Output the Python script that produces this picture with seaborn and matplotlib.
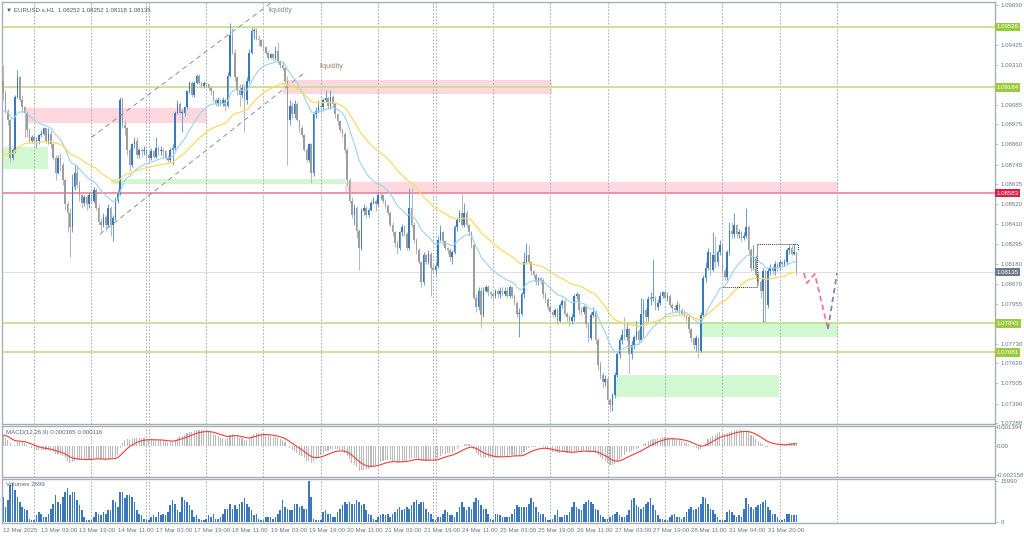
import numpy as np
import pandas as pd
import matplotlib
matplotlib.use("Agg")
import matplotlib.pyplot as plt
import matplotlib.transforms as mtransforms
import seaborn as sns

# %% ------------------------------------------------------------------
#                         data (EURUSD H1)
# ---------------------------------------------------------------------
first_open = 1.0922
closes = [
    1.0915, 1.0905, 1.0900, 1.0878, 1.0883, 1.0913, 1.0924, 1.0911, 1.0907, 1.0904,
    1.0894, 1.0888, 1.0890, 1.0888, 1.0888, 1.0891, 1.0892, 1.0895, 1.0888, 1.0892,
    1.0886, 1.0878, 1.0870, 1.0878, 1.0874, 1.0866, 1.0852, 1.0847, 1.0839, 1.0862,
    1.0870, 1.0863, 1.0857, 1.0853, 1.0856, 1.0852, 1.0857, 1.0854, 1.0860, 1.0850,
    1.0842, 1.0840, 1.0845, 1.0840, 1.0850, 1.0840, 1.0844, 1.0854, 1.0858, 1.0911,
    1.0897, 1.0895, 1.0883, 1.0874, 1.0886, 1.0888, 1.0880, 1.0883, 1.0882, 1.0883,
    1.0880, 1.0878, 1.0882, 1.0879, 1.0884, 1.0882, 1.0883, 1.0882, 1.0878, 1.0877,
    1.0883, 1.0884, 1.0904, 1.0909, 1.0904, 1.0904, 1.0907, 1.0916, 1.0921, 1.0914,
    1.0921, 1.0925, 1.0921, 1.0919, 1.0921, 1.0920, 1.0918, 1.0916, 1.0911, 1.0909,
    1.0911, 1.0909, 1.0911, 1.0908, 1.0925, 1.0948, 1.0938, 1.0924, 1.0917, 1.0914,
    1.0918, 1.0911, 1.0922, 1.0938, 1.0950, 1.0951, 1.0946, 1.0945, 1.0942, 1.0941,
    1.0938, 1.0935, 1.0937, 1.0935, 1.0939, 1.0933, 1.0931, 1.0929, 1.0922, 1.0900,
    1.0908, 1.0903, 1.0909, 1.0900, 1.0895, 1.0891, 1.0883, 1.0877, 1.0886, 1.0870,
    1.0903, 1.0905, 1.0908, 1.0907, 1.0911, 1.0912, 1.0908, 1.0913, 1.0909, 1.0903,
    1.0899, 1.0894, 1.0892, 1.0883, 1.0866, 1.0854, 1.0846, 1.0850, 1.0837, 1.0827,
    1.0848, 1.0850, 1.0846, 1.0849, 1.0853, 1.0854, 1.0852, 1.0857, 1.0857, 1.0854,
    1.0851, 1.0847, 1.0840, 1.0836, 1.0830, 1.0827, 1.0836, 1.0839, 1.0835, 1.0827,
    1.0850, 1.0840, 1.0832, 1.0826, 1.0819, 1.0808, 1.0823, 1.0819, 1.0824, 1.0816,
    1.0815, 1.0817, 1.0832, 1.0836, 1.0831, 1.0827, 1.0826, 1.0822, 1.0825, 1.0839,
    1.0843, 1.0847, 1.0840, 1.0847, 1.0840, 1.0836, 1.0829, 1.0799, 1.0794, 1.0803,
    1.0789, 1.0803, 1.0805, 1.0802, 1.0801, 1.0800, 1.0803, 1.0801, 1.0803, 1.0801,
    1.0803, 1.0800, 1.0805, 1.0800, 1.0796, 1.0790, 1.0790, 1.0801, 1.0819, 1.0823,
    1.0819, 1.0814, 1.0812, 1.0808, 1.0810, 1.0809, 1.0801, 1.0798, 1.0794, 1.0791,
    1.0789, 1.0792, 1.0786, 1.0795, 1.0797, 1.0790, 1.0788, 1.0786, 1.0788, 1.0800,
    1.0801, 1.0792, 1.0791, 1.0794, 1.0784, 1.0776, 1.0789, 1.0791, 1.0775, 1.0761,
    1.0755, 1.0751, 1.0753, 1.0741, 1.0738, 1.0744, 1.0755, 1.0767, 1.0775, 1.0778,
    1.0777, 1.0781, 1.0767, 1.0772, 1.0777, 1.0780, 1.0775, 1.0790, 1.0792, 1.0788,
    1.0798, 1.0799, 1.0799, 1.0794, 1.0796, 1.0800, 1.0802, 1.0799, 1.0800, 1.0795,
    1.0793, 1.0792, 1.0795, 1.0792, 1.0790, 1.0789, 1.0788, 1.0781, 1.0776, 1.0772,
    1.0776, 1.0769, 1.0789, 1.0810, 1.0816, 1.0825, 1.0815, 1.0823, 1.0819, 1.0825,
    1.0829, 1.0814, 1.0811, 1.0825, 1.0837, 1.0835, 1.0840, 1.0835, 1.0836, 1.0833,
    1.0834, 1.0839, 1.0826, 1.0816, 1.0822, 1.0812, 1.0808, 1.0803, 1.0814, 1.0795,
    1.0814, 1.0816, 1.0814, 1.0818, 1.0816, 1.0819, 1.0818, 1.0819, 1.0826, 1.0827,
    1.0824, 1.08252, 1.08135,
]
highs = [
    1.0931, 1.0917, 1.0906, 1.0901, 1.0884, 1.0914, 1.0928, 1.0925, 1.0914, 1.0908,
    1.0905, 1.0895, 1.0891, 1.0891, 1.0890, 1.0892, 1.0894, 1.0896, 1.0895, 1.0895,
    1.0894, 1.0887, 1.0880, 1.0880, 1.0881, 1.0876, 1.0867, 1.0854, 1.0850, 1.0869,
    1.0874, 1.0874, 1.0865, 1.0858, 1.0857, 1.0857, 1.0859, 1.0858, 1.0862, 1.0861,
    1.0852, 1.0844, 1.0847, 1.0846, 1.0852, 1.0851, 1.0846, 1.0856, 1.0860, 1.0913,
    1.0913, 1.0900, 1.0896, 1.0884, 1.0887, 1.0890, 1.0890, 1.0884, 1.0884, 1.0885,
    1.0884, 1.0882, 1.0884, 1.0883, 1.0890, 1.0885, 1.0885, 1.0884, 1.0883, 1.0880,
    1.0884, 1.0886, 1.0905, 1.0911, 1.0910, 1.0906, 1.0908, 1.0917, 1.0922, 1.0922,
    1.0922, 1.0926, 1.0926, 1.0922, 1.0922, 1.0921, 1.0920, 1.0919, 1.0917, 1.0912,
    1.0913, 1.0912, 1.0913, 1.0912, 1.0927, 1.0955, 1.0952, 1.0940, 1.0925, 1.0920,
    1.0920, 1.0920, 1.0924, 1.0940, 1.0952, 1.0952, 1.0952, 1.0948, 1.0946, 1.0945,
    1.0942, 1.0939, 1.0938, 1.0938, 1.0942, 1.0944, 1.0934, 1.0933, 1.0930, 1.0925,
    1.0911, 1.0910, 1.0911, 1.0910, 1.0900, 1.0897, 1.0892, 1.0884, 1.0887, 1.0887,
    1.0904, 1.0907, 1.0911, 1.0909, 1.0912, 1.0917, 1.0913, 1.0917, 1.0914, 1.0910,
    1.0904, 1.0900, 1.0895, 1.0893, 1.0884, 1.0867, 1.0856, 1.0852, 1.0851, 1.0838,
    1.0850, 1.0852, 1.0851, 1.0850, 1.0854, 1.0856, 1.0855, 1.0859, 1.0858, 1.0857,
    1.0855, 1.0852, 1.0848, 1.0842, 1.0837, 1.0832, 1.0837, 1.0841, 1.0840, 1.0836,
    1.0861, 1.0861, 1.0842, 1.0833, 1.0827, 1.0820, 1.0825, 1.0824, 1.0826, 1.0825,
    1.0818, 1.0819, 1.0834, 1.0840, 1.0837, 1.0832, 1.0828, 1.0827, 1.0826, 1.0840,
    1.0845, 1.0849, 1.0858, 1.0853, 1.0849, 1.0841, 1.0837, 1.0830, 1.0801, 1.0805,
    1.0805, 1.0805, 1.0806, 1.0806, 1.0803, 1.0802, 1.0804, 1.0804, 1.0805, 1.0805,
    1.0805, 1.0805, 1.0806, 1.0805, 1.0801, 1.0797, 1.0793, 1.0802, 1.0825, 1.0830,
    1.0829, 1.0820, 1.0815, 1.0813, 1.0811, 1.0811, 1.0810, 1.0802, 1.0799, 1.0795,
    1.0792, 1.0793, 1.0793, 1.0796, 1.0798, 1.0798, 1.0791, 1.0789, 1.0790, 1.0801,
    1.0802, 1.0801, 1.0794, 1.0795, 1.0795, 1.0785, 1.0791, 1.0794, 1.0792, 1.0776,
    1.0763, 1.0757, 1.0755, 1.0754, 1.0742, 1.0745, 1.0757, 1.0768, 1.0777, 1.0781,
    1.0788, 1.0785, 1.0782, 1.0775, 1.0778, 1.0786, 1.0781, 1.0799, 1.0798, 1.0793,
    1.0800, 1.0802, 1.0821, 1.0800, 1.0798, 1.0802, 1.0803, 1.0803, 1.0802, 1.0801,
    1.0796, 1.0795, 1.0797, 1.0796, 1.0793, 1.0792, 1.0790, 1.0789, 1.0782, 1.0777,
    1.0778, 1.0777, 1.0791, 1.0812, 1.0819, 1.0827, 1.0823, 1.0836, 1.0834, 1.0826,
    1.0832, 1.0830, 1.0816, 1.0826, 1.0842, 1.0842, 1.0847, 1.0841, 1.0838, 1.0837,
    1.0836, 1.0850, 1.0840, 1.0827, 1.0829, 1.0823, 1.0814, 1.0809, 1.0816, 1.0815,
    1.0816, 1.0818, 1.0817, 1.0820, 1.0819, 1.0821, 1.0820, 1.0821, 1.0827, 1.0829,
    1.0829, 1.0830, 1.08252,
]
lows = [
    1.0911, 1.0904, 1.0897, 1.0876, 1.0877, 1.0881, 1.0912, 1.0910, 1.0904, 1.0890,
    1.0890, 1.0887, 1.0887, 1.0886, 1.0884, 1.0886, 1.0890, 1.0891, 1.0887, 1.0886,
    1.0884, 1.0877, 1.0866, 1.0869, 1.0871, 1.0863, 1.0849, 1.0836, 1.0822, 1.0836,
    1.0860, 1.0861, 1.0854, 1.0850, 1.0851, 1.0849, 1.0850, 1.0853, 1.0853, 1.0849,
    1.0840, 1.0837, 1.0839, 1.0837, 1.0839, 1.0834, 1.0831, 1.0843, 1.0853, 1.0857,
    1.0895, 1.0891, 1.0880, 1.0871, 1.0873, 1.0884, 1.0878, 1.0878, 1.0879, 1.0880,
    1.0878, 1.0876, 1.0877, 1.0878, 1.0878, 1.0880, 1.0880, 1.0879, 1.0877, 1.0876,
    1.0876, 1.0874, 1.0883, 1.0903, 1.0903, 1.0893, 1.0902, 1.0906, 1.0915, 1.0913,
    1.0913, 1.0920, 1.0920, 1.0918, 1.0918, 1.0918, 1.0917, 1.0914, 1.0910, 1.0908,
    1.0908, 1.0908, 1.0908, 1.0905, 1.0907, 1.0924, 1.0937, 1.0922, 1.0914, 1.0908,
    1.0912, 1.0893, 1.0909, 1.0921, 1.0937, 1.0946, 1.0945, 1.0942, 1.0941, 1.0939,
    1.0937, 1.0934, 1.0935, 1.0934, 1.0934, 1.0932, 1.0929, 1.0928, 1.0921, 1.0874,
    1.0897, 1.0901, 1.0901, 1.0899, 1.0893, 1.0890, 1.0882, 1.0876, 1.0876, 1.0864,
    1.0868, 1.0901, 1.0904, 1.0903, 1.0905, 1.0910, 1.0906, 1.0906, 1.0907, 1.0901,
    1.0897, 1.0893, 1.0890, 1.0881, 1.0863, 1.0853, 1.0844, 1.0840, 1.0833, 1.0815,
    1.0826, 1.0846, 1.0844, 1.0845, 1.0848, 1.0852, 1.0848, 1.0851, 1.0855, 1.0853,
    1.0850, 1.0846, 1.0839, 1.0834, 1.0828, 1.0824, 1.0826, 1.0834, 1.0834, 1.0826,
    1.0826, 1.0839, 1.0830, 1.0824, 1.0818, 1.0805, 1.0806, 1.0818, 1.0818, 1.0800,
    1.0813, 1.0812, 1.0816, 1.0831, 1.0829, 1.0826, 1.0824, 1.0820, 1.0818, 1.0824,
    1.0837, 1.0842, 1.0839, 1.0839, 1.0839, 1.0834, 1.0827, 1.0798, 1.0791, 1.0792,
    1.0782, 1.0788, 1.0802, 1.0800, 1.0799, 1.0797, 1.0799, 1.0799, 1.0799, 1.0800,
    1.0800, 1.0799, 1.0799, 1.0799, 1.0795, 1.0788, 1.0777, 1.0789, 1.0799, 1.0818,
    1.0818, 1.0812, 1.0810, 1.0806, 1.0806, 1.0807, 1.0799, 1.0796, 1.0792, 1.0790,
    1.0788, 1.0788, 1.0784, 1.0785, 1.0793, 1.0789, 1.0786, 1.0783, 1.0784, 1.0786,
    1.0798, 1.0790, 1.0789, 1.0790, 1.0782, 1.0774, 1.0775, 1.0788, 1.0773, 1.0758,
    1.0753, 1.0748, 1.0749, 1.0739, 1.0734, 1.0735, 1.0742, 1.0754, 1.0765, 1.0773,
    1.0775, 1.0775, 1.0756, 1.0764, 1.0770, 1.0775, 1.0773, 1.0774, 1.0777, 1.0785,
    1.0786, 1.0795, 1.0797, 1.0792, 1.0792, 1.0795, 1.0799, 1.0798, 1.0797, 1.0794,
    1.0791, 1.0791, 1.0791, 1.0790, 1.0789, 1.0788, 1.0786, 1.0779, 1.0774, 1.0770,
    1.0769, 1.0765, 1.0768, 1.0788, 1.0808, 1.0815, 1.0812, 1.0814, 1.0816, 1.0817,
    1.0823, 1.0812, 1.0809, 1.0809, 1.0823, 1.0833, 1.0833, 1.0833, 1.0833, 1.0831,
    1.0832, 1.0833, 1.0824, 1.0814, 1.0815, 1.0810, 1.0806, 1.0799, 1.0785, 1.0785,
    1.0793, 1.0812, 1.0812, 1.0812, 1.0814, 1.0815, 1.0817, 1.0817, 1.0818, 1.0824,
    1.0823, 1.0823, 1.08118,
]
volumes = [
    9750, 5850, 8450, 14300, 14950, 12350, 9750, 7800, 5850, 5200, 4550, 1300, 650,
    650, 2600, 3900, 3250, 1950, 1950, 3250, 5200, 7150, 10400, 7800, 7150,
    9750, 11700, 13000, 10400, 11700, 11700, 8450, 6500, 4550, 1950, 650, 650,
    650, 1950, 3900, 3250, 2600, 3900, 3250, 4550, 4550, 8450, 7800, 5850,
    11700, 11700, 9100, 10400, 10400, 9750, 7800, 4550, 3250, 2600, 1300, 650,
    650, 1950, 2600, 1950, 3900, 2600, 3250, 2600, 3900, 6500, 8450, 7150,
    4550, 3900, 9750, 8450, 7800, 6500, 4550, 1950, 2600, 1300, 650, 650,
    1300, 2600, 1950, 3250, 1300, 1300, 1950, 3250, 5200, 5200, 7150, 5200,
    6500, 5200, 7150, 7800, 9100, 7150, 5850, 4550, 2600, 3250, 1300, 650,
    650, 1950, 1950, 1950, 1300, 1950, 3250, 4550, 8450, 5850, 5200, 4550,
    4550, 7150, 7150, 5850, 6100, 5200, 5200, 15990, 9500, 1300, 650, 650,
    650, 3900, 4550, 3250, 3250, 1950, 1950, 3900, 5200, 6500, 7800, 7150,
    7800, 7150, 7150, 8450, 7800, 6500, 7150, 4550, 3250, 2600, 1300, 650,
    1950, 2600, 3250, 2600, 3250, 1950, 3250, 3900, 5200, 5850, 4550, 5200,
    5850, 5200, 6500, 7800, 8450,
    7150, 7800, 7800, 5200, 3900, 3250, 1300,
    650, 1950, 1950, 3250, 4550, 3900, 2600, 2600, 1950, 3900, 5850, 7800,
    5850, 4550, 5850, 5200, 7800, 9100, 8450, 6500, 5200, 5200, 3250, 1300,
    650, 3250, 3250, 2600, 1950, 1950, 1950, 1950, 3250, 5200, 6500, 5850,
    5850, 5850, 5850, 7150, 9100, 7800, 5850, 3900, 3250, 3250, 1950, 650,
    650, 1300, 2600, 4550, 1950, 1950, 2600, 2600, 3900, 5850, 7800, 5850,
    5200, 4550, 7150, 7800, 8450, 7800, 7150, 5200, 4550, 2600, 1950, 1300,
    1300, 1950, 2600, 3250, 3900, 2600, 1950, 1950, 2600, 4550, 8450, 9100,
    6500, 5850, 5200, 5850, 7150, 7800, 9100, 6500, 4550, 2600, 1300, 1300,
    650, 650, 1950, 2600, 3250, 1950, 1950, 1300, 1950, 3900, 5200, 5850,
    4550, 5200, 5850, 7150, 9750, 9100, 7150, 5200, 4550, 3250, 1950, 650,
    650, 650, 3900, 4550, 3900, 2600, 1950, 2600, 1950, 5200, 9100, 7150,
    5850, 5200, 5850, 6500, 7150, 7800, 8450, 5850, 4550, 3250, 3250, 1950,
    650, 650, 1300, 3250, 3250, 2600, 2600, 2699,
]

# indicator starting values, read at the left edge of the chart
ema21_start = 1.0905
ema50_start = 1.0879
ema12_start = 1.0912
ema26_start = 1.0905
signal_start = 0.0008

# axis labels
x_label_bars = list(range(0, 321, 16))
x_label_texts = ["12 Mar 2025", "13 Mar 03:00", "13 Mar 19:00", "14 Mar 11:00",
                 "17 Mar 03:00", "17 Mar 19:00", "18 Mar 11:00", "19 Mar 03:00",
                 "19 Mar 19:00", "20 Mar 11:00", "21 Mar 03:00", "21 Mar 19:00",
                 "24 Mar 11:00", "25 Mar 03:00", "25 Mar 19:00", "26 Mar 11:00",
                 "27 Mar 03:00", "27 Mar 19:00", "28 Mar 11:00", "31 Mar 04:00",
                 "31 Mar 20:00"]
separator_bars = [13, 37, 60, 61, 85, 109, 133, 157, 180, 181, 205, 229, 253, 277, 301, 325, 349]
price_ticks = [1.09650, 1.09425, 1.09310, 1.09085, 1.08975, 1.08860, 1.08745, 1.08635,
               1.08520, 1.08410, 1.08295, 1.08180, 1.08070, 1.07955, 1.07730, 1.07620,
               1.07505, 1.07390, 1.07280]
macd_ticks = [0.001394, 0.0, -0.002158]
macd_tick_texts = ["0.001394", "0.00", "-0.002158"]
vol_ticks = [15990, 0]

# horizontal levels
level_prices = [1.09526, 1.09184, 1.08583, 1.07845, 1.07681]
level_kinds = ["support", "support", "resist", "support", "support"]
last_price = 1.08135

# zones: left bar, right bar, low price, high price, kind
zone_left = [9.2, 117.2, 143.1, 0.0, 45.2, 291.6, 256.1]
zone_right = [85.4, 229.7, 349.4, 18.8, 143.1, 349.4, 324.7]
zone_low = [1.08979, 1.09143, 1.08583, 1.08719, 1.08634, 1.07767, 1.07427]
zone_high = [1.09067, 1.09224, 1.08646, 1.08844, 1.08661, 1.07852, 1.07552]
zone_kind = ["sell", "sell", "sell", "buy", "buy", "buy", "buy"]

# channel lines (bar, price)
channel_upper_bars = [37.0, 112.0]
channel_upper_prices = [1.0890, 1.0966]
channel_lower_bars = [40.5, 126.5]
channel_lower_prices = [1.0835, 1.0927]

# range box and projected path
box_bars = [301.3, 315.5, 315.5, 332.6, 332.6]
box_prices = [1.08051, 1.08051, 1.08295, 1.08295, 1.08260]
path_bars = [335.1, 336.4, 339.7, 345.2]
path_prices = [1.08130, 1.08073, 1.08125, 1.07813]
rebound_bars = [345.2, 349.0]
rebound_prices = [1.07813, 1.08130]

# %% ------------------------------------------------------------------
#                         indicators
# ---------------------------------------------------------------------
def ema(values, period, start):
    a = 2.0 / (period + 1)
    out = [start]
    for v in values[1:]:
        out.append(out[-1] + a * (v - out[-1]))
    return np.array(out)

c = np.array(closes)
o = np.array([first_open] + closes[:-1])
h = np.maximum(np.array(highs), np.maximum(o, c))
l = np.minimum(np.array(lows), np.minimum(o, c))
idx = np.arange(len(c))

ema21 = ema(closes, 21, ema21_start)
ema50 = ema(closes, 50, ema50_start)
macd_main = ema(closes, 12, ema12_start) - ema(closes, 26, ema26_start)
macd_signal = ema(list(macd_main), 9, signal_start)
df = pd.DataFrame({"bar": idx, "ema21": ema21, "ema50": ema50,
                   "macd": macd_main, "signal": macd_signal, "vol": volumes})

# %% ------------------------------------------------------------------
#                         plot
# ---------------------------------------------------------------------
sns.set_style("white")
plt.rcParams["font.family"] = ["Liberation Sans", "DejaVu Sans"]

W, H = 1024, 537
fig = plt.figure(figsize=(W / 100, H / 100), dpi=100)
fig.patch.set_facecolor("white")

def px_axes(x0, y0, x1, y1):
    return fig.add_axes([x0 / W, 1 - y1 / H, (x1 - x0) / W, (y1 - y0) / H])

ax = px_axes(2, 2, 995, 424)
ax_macd = px_axes(2, 426, 995, 477)
ax_vol = px_axes(2, 479, 995, 523)

xlim = (-0.42, 415.1)
axis_col = "#a7aeb8"
label_col = "#6b7686"
fs = 4.4

for a in (ax, ax_macd, ax_vol):
    a.set_xlim(*xlim)
    a.set_facecolor("white")
    for s in a.spines.values():
        s.set_color(axis_col)
        s.set_linewidth(1.0)
    a.yaxis.tick_right()
    a.tick_params(axis="y", length=2.5, width=0.5, colors=axis_col,
                  labelcolor=label_col, labelsize=fs, pad=1.5)
    for b in separator_bars:
        a.axvline(b, color="#97a1b0", lw=0.6, ls=(0, (2, 2)), zorder=1)

# main price panel ______________________________________________________
ax.set_ylim(1.07274, 1.09667)
for x0, x1, lo, hi, kind in zip(zone_left, zone_right, zone_low, zone_high, zone_kind):
    col = "#ffd7de" if kind == "sell" else "#d2f8d2"
    ax.fill_between([x0, x1], [lo, lo], [hi, hi], color=col, lw=0, zorder=0.5)

for p, kind in zip(level_prices, level_kinds):
    col = "#c6df92" if kind == "support" else "#ee8aa0"
    ax.axhline(p, color=col, lw=1.3, zorder=1.5)
ax.axhline(last_price, color="#dcdcef", lw=0.7, zorder=1.5)

ax.plot(channel_upper_bars, channel_upper_prices, color="#8e8e8e", lw=0.7,
        ls=(0, (5, 4)), zorder=2)
ax.plot(channel_lower_bars, channel_lower_prices, color="#8e8e8e", lw=0.7,
        ls=(0, (5, 4)), zorder=2)

up = c >= o
ax.vlines(idx[up], l[up], h[up], color="#6a9fd3", lw=0.75, zorder=3)
ax.vlines(idx[~up], l[~up], h[~up], color="#b8b8b8", lw=0.75, zorder=3)
body_lo = np.minimum(o, c)
body_h = np.maximum(np.abs(c - o), 0.00003)
ax.bar(idx[up], body_h[up], bottom=body_lo[up], width=0.66, color="#3978bd", lw=0, zorder=3.5)
ax.bar(idx[~up], body_h[~up], bottom=body_lo[~up], width=0.66, color="#9d9d9d", lw=0, zorder=3.5)

sns.lineplot(data=df, x="bar", y="ema21", ax=ax, color="#99d3f0", lw=0.8, zorder=4, legend=False)
sns.lineplot(data=df, x="bar", y="ema50", ax=ax, color="#ffd95e", lw=0.9, zorder=4, legend=False)

ax.plot(box_bars, box_prices, color="#333333", lw=0.7, ls=(0, (1, 1)), zorder=5)
ax.plot(path_bars, path_prices, color="#f27497", lw=1.3, ls=(0, (3, 2)), zorder=5)
ax.plot(rebound_bars, rebound_prices, color="#7e8aa8", lw=1.3, ls=(0, (3, 2)), zorder=5)

ax.text(110.9, 1.09616, "liquidity", fontsize=fs + 0.6, color="#8a8a8a", va="center", ha="left")
ax.text(132.6, 1.09300, "liquidity", fontsize=fs + 0.6, color="#9a8270", va="center", ha="left")
ax.text(0.004, 0.988, "\u25bc EURUSD.s,H1  1.08252 1.08252 1.08118 1.08135",
        transform=ax.transAxes, fontsize=fs, color="#4a5666", va="top", ha="left")

ax.set_yticks(price_ticks)
ax.set_yticklabels([f"{p:.5f}" for p in price_ticks])
ax.set_xticks([])
ax.set_xlabel("")
ax.set_ylabel("")

trans = mtransforms.blended_transform_factory(ax.transAxes, ax.transData)
box_cols = {"support": "#9bcb3c", "resist": "#dc1e46"}
for p, kind in zip(level_prices, level_kinds):
    ax.text(1.0015, p, f"{p:.5f}", transform=trans, fontsize=fs, color="white",
            va="center", ha="left", clip_on=False,
            bbox=dict(boxstyle="square,pad=0.3", fc=box_cols[kind], ec="none"))
ax.text(1.0015, last_price, f"{last_price:.5f}", transform=trans, fontsize=fs,
        color="white", va="center", ha="left", clip_on=False,
        bbox=dict(boxstyle="square,pad=0.3", fc="#6c7a8b", ec="none"))

# MACD panel ____________________________________________________________
ax_macd.set_ylim(-0.002306, 0.001468)
ax_macd.bar(idx, macd_main, width=0.45, color="#b9b9b9", lw=0, zorder=2)
sns.lineplot(data=df, x="bar", y="signal", ax=ax_macd, color="#f23c3c", lw=0.8,
             zorder=3, legend=False)
ax_macd.set_yticks(macd_ticks)
ax_macd.set_yticklabels(macd_tick_texts)
ax_macd.tick_params(axis="y", length=1.2, pad=0.4)
ax_macd.set_xticks([])
ax_macd.set_xlabel("")
ax_macd.set_ylabel("")
ax_macd.text(0.004, 0.93, "MACD(12,26,9) 0.000165 0.000116", transform=ax_macd.transAxes,
             fontsize=fs, color="#5c6573", va="top", ha="left")

# volume panel __________________________________________________________
ax_vol.set_ylim(-390, 16650)
ax_vol.bar(idx, volumes, width=0.66, color="#3978bd", lw=0, zorder=2)
ax_vol.set_yticks(vol_ticks)
ax_vol.set_yticklabels([str(v) for v in vol_ticks])
ax_vol.set_xticks(x_label_bars)
ax_vol.set_xticklabels(x_label_texts)
ax_vol.tick_params(axis="x", length=2, width=0.5, colors=axis_col,
                   labelcolor=label_col, labelsize=fs, pad=1.5)
for t in ax_vol.get_xticklabels():
    t.set_ha("left")
ax_vol.set_xlabel("")
ax_vol.set_ylabel("")
ax_vol.text(0.004, 0.93, "Volumes 2699", transform=ax_vol.transAxes,
            fontsize=fs, color="#5c6573", va="top", ha="left")

fig.savefig("out.png", dpi=100, facecolor="white")
plt.close("all")
